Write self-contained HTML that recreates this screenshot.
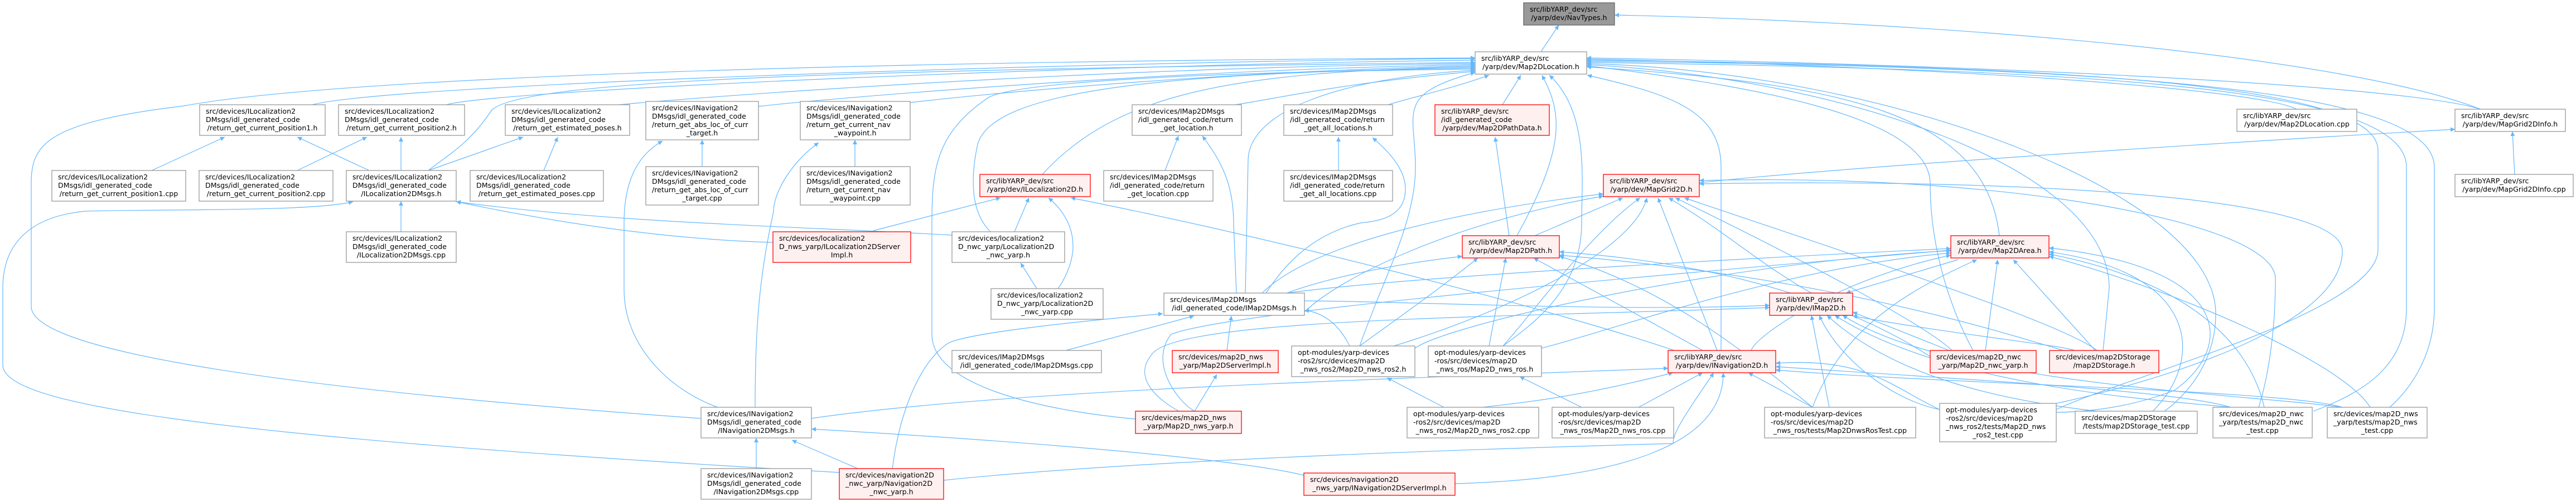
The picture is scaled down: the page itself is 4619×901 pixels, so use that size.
<!DOCTYPE html>
<html><head><meta charset="utf-8"><style>
html,body{margin:0;padding:0;background:#fff;}
svg{display:block;}
text{font-family:"DejaVu Sans","Liberation Sans",sans-serif;font-size:12.6px;fill:#000;}
.w{fill:#fff;stroke:#999;stroke-width:1.3;}
.r{fill:#fff0f0;stroke:#f00;stroke-width:1.3;}
.g{fill:#999;stroke:#666;stroke-width:1.3;}
path.e{fill:none;stroke:#63b8ff;stroke-width:1.2;marker-start:url(#ah);}
.c{text-anchor:middle;}
</style></head><body>
<svg width="4619" height="901" viewBox="0 0 4619 901" xmlns="http://www.w3.org/2000/svg">
<defs><marker id="ah" viewBox="0 0 10 10" refX="10" refY="5" markerUnits="userSpaceOnUse" markerWidth="11" markerHeight="8" orient="auto-start-reverse"><path d="M0,0 L10,5 L0,10 z" fill="#63b8ff"/></marker></defs>
<g>
<!-- edges -->
<path class="e" d="M2795,45 L2763,93"/>
<path class="e" d="M2895,27 C3500,40 4200,100 4448,196"/>
<path class="e" d="M2645,105 C2000,110 700,150 560,188"/>
<path class="e" d="M2645,108 C2000,115 900,160 800,188"/>
<path class="e" d="M2645,112 C1600,125 920,140 880,200 S800,280 768,306"/>
<path class="e" d="M2645,104 C1500,110 600,140 330,190 C80,220 56,260 56,330 L56,550 C56,620 400,690 1257,751"/>
<path class="e" d="M633,362 C560,380 300,375 153,379 C40,390 5,450 5,517 L5,655 C5,720 300,780 1505,848"/>
<path class="e" d="M2645,114 C2000,120 1300,170 1110,188"/>
<path class="e" d="M2645,116 C2100,125 1500,175 1360,191"/>
<path class="e" d="M2645,118 C2200,128 1800,165 1632,184"/>
<path class="e" d="M2645,120 C2200,128 2000,170 1869,313"/>
<path class="e" d="M2645,122 C2100,130 1780,160 1753,259 C1740,320 1740,380 1776,416"/>
<path class="e" d="M2645,124 C2100,130 1800,150 1768,178 C1680,240 1671,300 1671,400 L1671,600 C1671,700 1900,740 2036,752"/>
<path class="e" d="M2645,126 C2400,140 2240,200 2238,287 L2233,526"/>
<path class="e" d="M2645,128 C2400,150 2300,175 2215,188"/>
<path class="e" d="M2645,130 C2500,170 2538,200 2538,300 C2538,400 2480,500 2438,621"/>
<path class="e" d="M2670,135 C2600,160 2530,175 2489,188"/>
<path class="e" d="M2727,135 L2694,188"/>
<path class="e" d="M2765,135 C2800,200 2810,260 2720,423"/>
<path class="e" d="M2778,135 C2850,200 2836,322 2836,400 C2836,520 2750,580 2695,621"/>
<path class="e" d="M2846,135 C3000,170 3086,200 3086,300 L3086,629"/>
<path class="e" d="M2845,120 C3300,150 3560,200 3585,423"/>
<path class="e" d="M2845,118 C3200,160 3461,220 3461,330 C3461,450 3500,560 3538,629"/>
<path class="e" d="M2845,116 C3300,140 3782,300 3782,517 L3771,629"/>
<path class="e" d="M2845,114 C3400,130 3973,350 3973,563 C3973,650 3920,710 3881,738"/>
<path class="e" d="M2845,112 C3800,125 4315,160 4315,300 L4315,552 C4315,650 4250,700 4148,738"/>
<path class="e" d="M2845,110 C3900,120 4365,170 4365,300 L4365,552 C4365,640 4320,700 4285,731"/>
<path class="e" d="M2845,108 C3800,118 4264,160 4264,270 L4264,448 C4264,560 3800,680 3687,735"/>
<path class="e" d="M2845,106 C3500,120 4050,160 4118,196"/>
<path class="e" d="M2845,104 C3500,115 4300,150 4448,196"/>
<path class="e" d="M4505,236 L4509,313"/>
<path class="e" d="M4402,232 C4000,255 3300,300 3047,328"/>
<!-- A group -->
<path class="e" d="M403,246 L272,306"/>
<path class="e" d="M533,246 L662,306"/>
<path class="e" d="M658,246 L533,306"/>
<path class="e" d="M719,246 L719,306"/>
<path class="e" d="M938,246 L768,306"/>
<path class="e" d="M719,361 L719,416"/>
<path class="e" d="M818,362 C1000,400 1200,430 1386,435"/>
<path class="e" d="M818,362 C1100,400 1400,405 1707,422"/>
<!-- B group -->
<path class="e" d="M1000,246 L975,306"/>
<path class="e" d="M1259,251 L1259,299"/>
<path class="e" d="M1533,251 L1533,299"/>
<path class="e" d="M1188,253 C1140,280 1119,330 1119,400 L1119,520 C1119,620 1200,700 1287,731"/>
<path class="e" d="M1468,256 C1420,290 1387,345 1387,380 C1360,500 1354,600 1354,731"/>
<path class="e" d="M1356,786 L1356,841"/>
<path class="e" d="M1420,790 L1538,841"/>
<path class="e" d="M1455,770 C1800,790 2200,820 2338,853"/>
<!-- C group -->
<path class="e" d="M1845,355 L1819,416"/>
<path class="e" d="M1830,472 L1859,518"/>
<path class="e" d="M1880,355 C1910,380 1924,410 1924,442 C1924,470 1910,500 1897,518"/>
<path class="e" d="M1794,355 L1566,414"/>
<path class="e" d="M1920,355 C2300,430 2800,560 3002,629"/>
<path class="e" d="M2113,244 L2089,306"/>
<path class="e" d="M2156,244 C2190,290 2212,330 2212,402 L2217,526"/>
<path class="e" d="M2400,246 L2400,306"/>
<path class="e" d="M2461,247 C2500,280 2520,310 2520,339 C2520,380 2490,396 2440,400 C2350,420 2300,480 2270,526"/>
<path class="e" d="M2141,567 L1911,629"/>
<path class="e" d="M2208,567 L2200,629"/>
<path class="e" d="M2182,672 L2142,738"/>
<path class="e" d="M2085,563 C1900,580 1720,600 1697,618 C1640,660 1610,760 1600,842"/>
<path class="e" d="M2339,557 C2370,560 2400,580 2420,621"/>
<path class="e" d="M3173,552 C2700,570 2100,570 2064,638 C2030,680 2080,720 2114,738"/>
<path class="e" d="M3498,449 C2900,500 2200,560 2100,600 C2060,650 2110,720 2142,738"/>
<!-- MapGrid2D -->
<path class="e" d="M2875,348 C2600,380 2350,440 2263,526"/>
<path class="e" d="M2910,355 L2752,423"/>
<path class="e" d="M2941,355 C2850,420 2750,560 2695,621"/>
<path class="e" d="M2953,355 C2930,450 2700,560 2499,621"/>
<path class="e" d="M2973,355 L3079,629"/>
<path class="e" d="M2992,355 C3100,420 3150,470 3248,526"/>
<path class="e" d="M3004,355 C3200,450 3450,580 3500,629"/>
<path class="e" d="M3020,355 C3300,450 3700,580 3760,629"/>
<path class="e" d="M3047,330 C3600,320 4200,350 4200,450 C4200,600 3800,700 3687,724"/>
<path class="e" d="M3047,324 C3600,310 4080,400 4080,500 C4080,620 4060,700 4050,731"/>
<path class="e" d="M2875,352 C2600,400 2400,500 2339,560"/>
<!-- Map2DPath -->
<path class="e" d="M2681,246 L2706,423"/>
<path class="e" d="M2622,460 C2450,480 2350,510 2307,526"/>
<path class="e" d="M2650,463 C2580,520 2480,590 2438,621"/>
<path class="e" d="M2700,463 L2670,621"/>
<path class="e" d="M2750,463 L3053,629"/>
<path class="e" d="M2796,452 C3200,480 3400,600 3461,640"/>
<path class="e" d="M2796,458 C3300,500 3600,600 3700,629"/>
<path class="e" d="M2796,460 C3000,520 3150,650 3250,731"/>
<!-- IMap2D -->
<path class="e" d="M3310,526 L3511,466"/>
<path class="e" d="M3322,560 L3495,629"/>
<path class="e" d="M3322,567 C3500,600 3700,620 3720,629"/>
<path class="e" d="M3248,566 L3280,731"/>
<path class="e" d="M3262,566 C3300,650 3400,720 3478,735"/>
<path class="e" d="M3276,566 C3400,680 3600,720 3760,738"/>
<path class="e" d="M3290,566 C3500,700 3900,720 4000,731"/>
<path class="e" d="M3304,566 C3500,690 4000,705 4200,731"/>
<path class="e" d="M3173,548 C2900,560 2500,540 2339,540"/>
<!-- Map2DArea -->
<path class="e" d="M3498,446 C3000,470 2500,500 2307,526"/>
<path class="e" d="M3498,450 C3100,470 2600,580 2537,625"/>
<path class="e" d="M3498,454 C3200,480 2900,590 2764,625"/>
<path class="e" d="M3498,458 C3300,500 3150,600 3140,629"/>
<path class="e" d="M3582,466 L3560,629"/>
<path class="e" d="M3610,466 L3757,629"/>
<path class="e" d="M3545,466 C3400,530 3300,600 3250,731"/>
<path class="e" d="M3674,445 C4000,480 4010,620 3900,700 C3800,740 3700,740 3687,740"/>
<path class="e" d="M3674,452 C3950,490 3950,650 3860,738"/>
<path class="e" d="M3674,456 C3900,500 4030,600 4060,731"/>
<path class="e" d="M3674,460 C3900,520 4200,650 4250,731"/>
<!-- INavigation2D -->
<path class="e" d="M2991,661 C2500,680 1800,700 1455,751"/>
<path class="e" d="M3073,669 C3010,760 3000,780 3000,796 C2500,810 2000,830 1692,862"/>
<path class="e" d="M3090,669 C3090,800 2900,860 2609,868"/>
<path class="e" d="M3053,669 L2938,731"/>
<path class="e" d="M3000,669 C2800,720 2700,725 2659,731"/>
<path class="e" d="M3135,669 L3250,731"/>
<path class="e" d="M3184,652 C3350,640 3400,700 3478,735"/>
<path class="e" d="M3184,658 C3500,680 3900,700 4000,731"/>
<path class="e" d="M3184,664 C3500,690 4100,700 4200,731"/>
<path class="e" d="M2487,678 L2589,731"/>
<path class="e" d="M2725,676 L2836,731"/>
</g>
<!-- nodes -->
<g>
<rect class="g" x="2732" y="5" width="163" height="40"/><text x="2743" y="21">src/libYARP_dev/src</text><text class="c" x="2813.5" y="36">/yarp/dev/NavTypes.h</text>
<rect class="w" x="2645" y="93" width="200" height="40"/><text x="2656" y="109">src/libYARP_dev/src</text><text class="c" x="2745" y="124">/yarp/dev/Map2DLocation.h</text>

<rect class="w" x="358" y="188" width="225" height="55"/><text x="369" y="204">src/devices/ILocalization2</text><text x="369" y="219">DMsgs/idl_generated_code</text><text class="c" x="470.5" y="234">/return_get_current_position1.h</text>
<rect class="w" x="93" y="306" width="240" height="55"/><text x="104" y="322">src/devices/ILocalization2</text><text x="104" y="337">DMsgs/idl_generated_code</text><text class="c" x="213" y="352">/return_get_current_position1.cpp</text>
<rect class="w" x="357" y="306" width="240" height="55"/><text x="368" y="322">src/devices/ILocalization2</text><text x="368" y="337">DMsgs/idl_generated_code</text><text class="c" x="477" y="352">/return_get_current_position2.cpp</text>
<rect class="w" x="607" y="188" width="226" height="55"/><text x="618" y="204">src/devices/ILocalization2</text><text x="618" y="219">DMsgs/idl_generated_code</text><text class="c" x="720" y="234">/return_get_current_position2.h</text>
<rect class="w" x="621" y="306" width="197" height="55"/><text x="632" y="322">src/devices/ILocalization2</text><text x="632" y="337">DMsgs/idl_generated_code</text><text class="c" x="719.5" y="352">/ILocalization2DMsgs.h</text>
<rect class="w" x="621" y="416" width="197" height="55"/><text x="632" y="432">src/devices/ILocalization2</text><text x="632" y="447">DMsgs/idl_generated_code</text><text class="c" x="719.5" y="462">/ILocalization2DMsgs.cpp</text>

<rect class="w" x="906" y="188" width="223" height="55"/><text x="917" y="204">src/devices/ILocalization2</text><text x="917" y="219">DMsgs/idl_generated_code</text><text class="c" x="1017.5" y="234">/return_get_estimated_poses.h</text>
<rect class="w" x="843" y="306" width="239" height="55"/><text x="854" y="322">src/devices/ILocalization2</text><text x="854" y="337">DMsgs/idl_generated_code</text><text class="c" x="962.5" y="352">/return_get_estimated_poses.cpp</text>
<rect class="w" x="1158" y="182" width="202" height="69"/><text x="1169" y="198">src/devices/INavigation2</text><text x="1169" y="213">DMsgs/idl_generated_code</text><text x="1169" y="228">/return_get_abs_loc_of_curr</text><text class="c" x="1259" y="243">_target.h</text>
<rect class="w" x="1158" y="299" width="202" height="69"/><text x="1169" y="315">src/devices/INavigation2</text><text x="1169" y="330">DMsgs/idl_generated_code</text><text x="1169" y="345">/return_get_abs_loc_of_curr</text><text class="c" x="1259" y="360">_target.cpp</text>
<rect class="w" x="1435" y="182" width="197" height="69"/><text x="1446" y="198">src/devices/INavigation2</text><text x="1446" y="213">DMsgs/idl_generated_code</text><text x="1446" y="228">/return_get_current_nav</text><text class="c" x="1533.5" y="243">_waypoint.h</text>
<rect class="w" x="1435" y="299" width="197" height="69"/><text x="1446" y="315">src/devices/INavigation2</text><text x="1446" y="330">DMsgs/idl_generated_code</text><text x="1446" y="345">/return_get_current_nav</text><text class="c" x="1533.5" y="360">_waypoint.cpp</text>
<rect class="r" x="1386" y="416" width="247" height="55"/><text x="1397" y="432">src/devices/localization2</text><text x="1397" y="447">D_nws_yarp/ILocalization2DServer</text><text class="c" x="1509.5" y="462">Impl.h</text>
<rect class="w" x="1257" y="731" width="198" height="55"/><text x="1268" y="747">src/devices/INavigation2</text><text x="1268" y="762">DMsgs/idl_generated_code</text><text class="c" x="1356" y="777">/INavigation2DMsgs.h</text>
<rect class="w" x="1257" y="841" width="198" height="55"/><text x="1268" y="857">src/devices/INavigation2</text><text x="1268" y="872">DMsgs/idl_generated_code</text><text class="c" x="1356" y="887">/INavigation2DMsgs.cpp</text>
<rect class="r" x="1505" y="841" width="187" height="55"/><text x="1516" y="857">src/devices/navigation2D</text><text x="1516" y="872">_nwc_yarp/Navigation2D</text><text class="c" x="1598.5" y="887">_nwc_yarp.h</text>

<rect class="r" x="1757" y="313" width="198" height="40"/><text x="1768" y="329">src/libYARP_dev/src</text><text class="c" x="1856" y="344">/yarp/dev/ILocalization2D.h</text>
<rect class="w" x="1707" y="416" width="202" height="55"/><text x="1718" y="432">src/devices/localization2</text><text x="1718" y="447">D_nwc_yarp/Localization2D</text><text class="c" x="1808" y="462">_nwc_yarp.h</text>
<rect class="w" x="1777" y="518" width="201" height="55"/><text x="1788" y="534">src/devices/localization2</text><text x="1788" y="549">D_nwc_yarp/Localization2D</text><text class="c" x="1877.5" y="564">_nwc_yarp.cpp</text>
<rect class="w" x="2030" y="188" width="196" height="55"/><text x="2041" y="204">src/devices/IMap2DMsgs</text><text x="2041" y="219">/idl_generated_code/return</text><text class="c" x="2128" y="234">_get_location.h</text>
<rect class="w" x="1979" y="306" width="196" height="55"/><text x="1990" y="322">src/devices/IMap2DMsgs</text><text x="1990" y="337">/idl_generated_code/return</text><text class="c" x="2077" y="352">_get_location.cpp</text>
<rect class="w" x="2302" y="188" width="195" height="55"/><text x="2313" y="204">src/devices/IMap2DMsgs</text><text x="2313" y="219">/idl_generated_code/return</text><text class="c" x="2399.5" y="234">_get_all_locations.h</text>
<rect class="w" x="2302" y="306" width="195" height="55"/><text x="2313" y="322">src/devices/IMap2DMsgs</text><text x="2313" y="337">/idl_generated_code/return</text><text class="c" x="2399.5" y="352">_get_all_locations.cpp</text>
<rect class="w" x="2087" y="526" width="252" height="40"/><text x="2098" y="542">src/devices/IMap2DMsgs</text><text class="c" x="2213" y="557">/idl_generated_code/IMap2DMsgs.h</text>
<rect class="w" x="1707" y="629" width="268" height="40"/><text x="1718" y="645">src/devices/IMap2DMsgs</text><text class="c" x="1841" y="660">/idl_generated_code/IMap2DMsgs.cpp</text>
<rect class="r" x="2102" y="629" width="190" height="40"/><text x="2113" y="645">src/devices/map2D_nws</text><text class="c" x="2197" y="660">_yarp/Map2DServerImpl.h</text>
<rect class="r" x="2036" y="738" width="190" height="40"/><text x="2047" y="754">src/devices/map2D_nws</text><text class="c" x="2131" y="769">_yarp/Map2D_nws_yarp.h</text>
<rect class="w" x="2316" y="621" width="221" height="55"/><text x="2327" y="637">opt-modules/yarp-devices</text><text x="2327" y="652">-ros2/src/devices/map2D</text><text class="c" x="2426.5" y="667">_nws_ros2/Map2D_nws_ros2.h</text>
<rect class="r" x="2338" y="849" width="271" height="40"/><text x="2349" y="865">src/devices/navigation2D</text><text class="c" x="2473.5" y="880">_nws_yarp/INavigation2DServerImpl.h</text>

<rect class="r" x="2573" y="188" width="205" height="55"/><text x="2584" y="204">src/libYARP_dev/src</text><text x="2584" y="219">/idl_generated_code</text><text class="c" x="2675.5" y="234">/yarp/dev/Map2DPathData.h</text>
<rect class="r" x="2875" y="313" width="172" height="40"/><text x="2886" y="329">src/libYARP_dev/src</text><text class="c" x="2961" y="344">/yarp/dev/MapGrid2D.h</text>
<rect class="r" x="2622" y="423" width="174" height="40"/><text x="2633" y="439">src/libYARP_dev/src</text><text class="c" x="2709" y="454">/yarp/dev/Map2DPath.h</text>
<rect class="w" x="2561" y="621" width="203" height="55"/><text x="2572" y="637">opt-modules/yarp-devices</text><text x="2572" y="652">-ros/src/devices/map2D</text><text class="c" x="2662.5" y="667">_nws_ros/Map2D_nws_ros.h</text>
<rect class="w" x="2523" y="731" width="236" height="55"/><text x="2534" y="747">opt-modules/yarp-devices</text><text x="2534" y="762">-ros2/src/devices/map2D</text><text class="c" x="2641" y="777">_nws_ros2/Map2D_nws_ros2.cpp</text>
<rect class="w" x="2783" y="731" width="218" height="55"/><text x="2794" y="747">opt-modules/yarp-devices</text><text x="2794" y="762">-ros/src/devices/map2D</text><text class="c" x="2892" y="777">_nws_ros/Map2D_nws_ros.cpp</text>
<rect class="r" x="2991" y="629" width="193" height="40"/><text x="3002" y="645">src/libYARP_dev/src</text><text class="c" x="3087.5" y="660">/yarp/dev/INavigation2D.h</text>
<rect class="r" x="3173" y="526" width="149" height="40"/><text x="3184" y="542">src/libYARP_dev/src</text><text class="c" x="3247.5" y="557">/yarp/dev/IMap2D.h</text>
<rect class="w" x="3164" y="731" width="271" height="55"/><text x="3175" y="747">opt-modules/yarp-devices</text><text x="3175" y="762">-ros/src/devices/map2D</text><text class="c" x="3299.5" y="777">_nws_ros/tests/Map2DnwsRosTest.cpp</text>
<rect class="r" x="3498" y="423" width="176" height="40"/><text x="3509" y="439">src/libYARP_dev/src</text><text class="c" x="3586" y="454">/yarp/dev/Map2DArea.h</text>
<rect class="r" x="3461" y="629" width="190" height="40"/><text x="3472" y="645">src/devices/map2D_nwc</text><text class="c" x="3556" y="660">_yarp/Map2D_nwc_yarp.h</text>
<rect class="r" x="3675" y="629" width="196" height="40"/><text x="3686" y="645">src/devices/map2DStorage</text><text class="c" x="3773" y="660">/map2DStorage.h</text>
<rect class="w" x="3478" y="724" width="209" height="69"/><text x="3489" y="740">opt-modules/yarp-devices</text><text x="3489" y="755">-ros2/src/devices/map2D</text><text x="3489" y="770">_nws_ros2/tests/Map2D_nws</text><text class="c" x="3582.5" y="785">_ros2_test.cpp</text>
<rect class="w" x="3721" y="738" width="219" height="40"/><text x="3732" y="754">src/devices/map2DStorage</text><text class="c" x="3830.5" y="769">/tests/map2DStorage_test.cpp</text>
<rect class="w" x="3968" y="731" width="178" height="55"/><text x="3979" y="747">src/devices/map2D_nwc</text><text x="3979" y="762">_yarp/tests/map2D_nwc</text><text class="c" x="4057" y="777">_test.cpp</text>
<rect class="w" x="4173" y="731" width="179" height="55"/><text x="4184" y="747">src/devices/map2D_nws</text><text x="4184" y="762">_yarp/tests/map2D_nws</text><text class="c" x="4262.5" y="777">_test.cpp</text>
<rect class="w" x="4011" y="196" width="215" height="40"/><text x="4022" y="212">src/libYARP_dev/src</text><text class="c" x="4118.5" y="227">/yarp/dev/Map2DLocation.cpp</text>
<rect class="w" x="4402" y="196" width="198" height="40"/><text x="4413" y="212">src/libYARP_dev/src</text><text class="c" x="4501" y="227">/yarp/dev/MapGrid2DInfo.h</text>
<rect class="w" x="4402" y="313" width="212" height="40"/><text x="4413" y="329">src/libYARP_dev/src</text><text class="c" x="4508" y="344">/yarp/dev/MapGrid2DInfo.cpp</text>
</g>
</svg>
</body></html>
